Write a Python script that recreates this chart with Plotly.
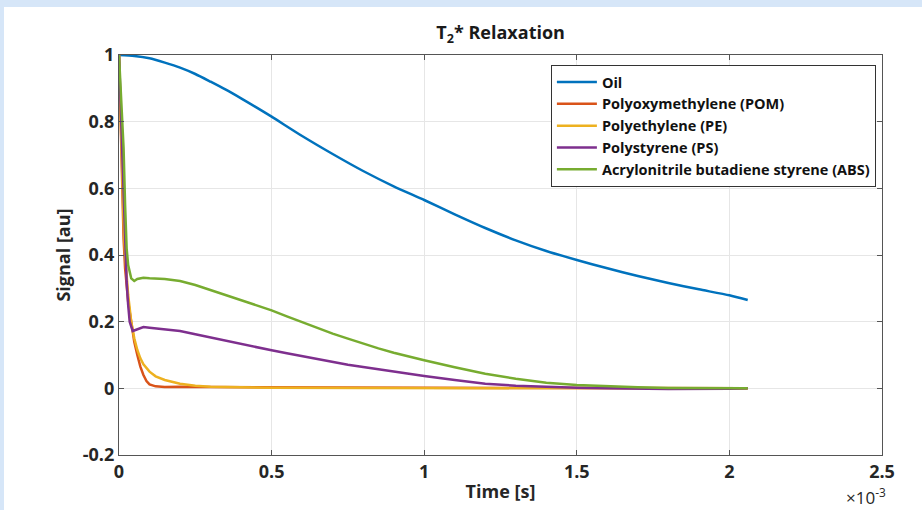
import plotly.graph_objects as go

# time in units of 1e-3 s
oil_t = [0, 0.05, 0.1, 0.15, 0.2, 0.25, 0.3, 0.35, 0.4, 0.45, 0.5, 0.6, 0.7, 0.8, 0.9,
         1.0, 1.1, 1.2, 1.3, 1.4, 1.5, 1.6, 1.7, 1.8, 1.9, 2.0, 2.06]
oil_v = [1.0, 0.997, 0.99, 0.977, 0.962, 0.943, 0.92, 0.896, 0.87, 0.843, 0.815, 0.757,
         0.703, 0.652, 0.606, 0.565, 0.522, 0.481, 0.444, 0.412, 0.385, 0.36, 0.337,
         0.316, 0.297, 0.279, 0.265]

pom_t = [0, 0.005, 0.01, 0.015, 0.02, 0.03, 0.04, 0.05, 0.06, 0.07, 0.08, 0.09, 0.1,
         0.12, 0.15, 0.2, 0.3, 0.5, 0.8, 1.0, 1.3, 1.6, 2.0, 2.06]
pom_v = [1.0, 0.8, 0.6, 0.45, 0.36, 0.26, 0.2, 0.14, 0.1, 0.065, 0.04, 0.022, 0.012,
         0.006, 0.004, 0.005, 0.004, 0.003, 0.002, 0.002, 0.001, 0.001, 0.0, 0.0]

pe_t = [0, 0.005, 0.01, 0.015, 0.02, 0.03, 0.04, 0.05, 0.06, 0.07, 0.08, 0.1, 0.12,
        0.15, 0.2, 0.25, 0.3, 0.4, 0.5, 0.8, 1.0, 1.3, 1.6, 2.0, 2.06]
pe_v = [1.0, 0.82, 0.65, 0.5, 0.4, 0.28, 0.2, 0.15, 0.115, 0.09, 0.072, 0.05, 0.036,
        0.025, 0.014, 0.008, 0.005, 0.003, 0.002, 0.001, 0.001, 0.001, 0.0, 0.0, 0.0]

ps_t = [0, 0.005, 0.01, 0.015, 0.02, 0.025, 0.03, 0.035, 0.045, 0.06, 0.08, 0.1, 0.15,
        0.2, 0.25, 0.3, 0.35, 0.4, 0.45, 0.5, 0.55, 0.6, 0.65, 0.7, 0.75, 0.8, 0.85,
        0.9, 0.95, 1.0, 1.1, 1.2, 1.3, 1.4, 1.5, 1.6, 1.8, 2.0, 2.06]
ps_v = [1.0, 0.85, 0.7, 0.55, 0.42, 0.32, 0.25, 0.2, 0.172, 0.178, 0.184, 0.182, 0.178,
        0.172, 0.162, 0.152, 0.142, 0.133, 0.123, 0.114, 0.105, 0.096, 0.087, 0.079,
        0.071, 0.064, 0.057, 0.05, 0.043, 0.037, 0.025, 0.014, 0.008, 0.004, 0.002,
        0.0, -0.002, -0.001, 0.0]

abs_t = [0, 0.005, 0.01, 0.015, 0.02, 0.025, 0.03, 0.04, 0.05, 0.06, 0.08, 0.1, 0.15,
         0.2, 0.25, 0.3, 0.35, 0.4, 0.45, 0.5, 0.55, 0.6, 0.65, 0.7, 0.75, 0.8, 0.85,
         0.9, 0.95, 1.0, 1.1, 1.2, 1.3, 1.4, 1.5, 1.6, 1.7, 1.8, 1.9, 2.0, 2.06]
abs_v = [1.0, 0.9, 0.82, 0.72, 0.55, 0.42, 0.37, 0.33, 0.322, 0.328, 0.332, 0.33, 0.328,
         0.322, 0.31, 0.295, 0.28, 0.265, 0.25, 0.234, 0.216, 0.198, 0.181, 0.164,
         0.149, 0.134, 0.12, 0.107, 0.095, 0.084, 0.063, 0.044, 0.029, 0.017, 0.01,
         0.006, 0.003, 0.001, 0.0, 0.0, 0.0]

series = [
    ("Oil", oil_t, oil_v, "#0072BD", "spline"),
    ("Polyoxymethylene (POM)", pom_t, pom_v, "#D95319", "linear"),
    ("Polyethylene (PE)", pe_t, pe_v, "#EDB120", "linear"),
    ("Polystyrene (PS)", ps_t, ps_v, "#7E2F8E", "linear"),
    ("Acrylonitrile butadiene styrene (ABS)", abs_t, abs_v, "#77AC30", "linear"),
]

x_ticks = [0, 0.5, 1, 1.5, 2, 2.5]
x_tick_text = ["0", "0.5", "1", "1.5", "2", "2.5"]
y_ticks = [-0.2, 0, 0.2, 0.4, 0.6, 0.8, 1]
y_tick_text = ["-0.2", "0", "0.2", "0.4", "0.6", "0.8", "1"]

FONT = "Open Sans"
fig = go.Figure()
for name, t, v, c, shape in series:
    line = dict(color=c, width=2.5, shape=shape)
    if shape == "spline":
        line["smoothing"] = 0.6
    fig.add_trace(go.Scatter(x=t, y=v, mode="lines", name=name, line=line))

axis_common = dict(showline=True, linecolor="#555555", linewidth=1.2, mirror="ticks",
                   ticks="inside", ticklen=5, tickcolor="#555555", showgrid=True,
                   gridcolor="#e6e6e6", gridwidth=1, zeroline=False,
                   tickfont=dict(family=FONT, size=18, color="#262626", weight="bold"))

fig.update_layout(
    width=922, height=524,
    margin=dict(l=119, r=40, t=55, b=69),
    paper_bgcolor="white", plot_bgcolor="white",
    title=dict(text="T<sub>2</sub>* Relaxation", x=0.543, xanchor="center",
               y=1 - 33 / 524, yanchor="middle", yref="container",
               font=dict(family=FONT, size=18, color="#1a1a1a", weight="bold")),
    xaxis=dict(range=[0, 2.5], tickvals=x_ticks, ticktext=x_tick_text,
               title=dict(text="Time [s]", standoff=3,
                          font=dict(family=FONT, size=18, color="#262626", weight="bold")),
               **axis_common),
    yaxis=dict(range=[-0.2, 1], tickvals=y_ticks, ticktext=y_tick_text,
               title=dict(text="Signal [au]", standoff=7,
                          font=dict(family=FONT, size=18, color="#262626", weight="bold")),
               **axis_common),
    legend=dict(x=0.992, xanchor="right", y=0.975, yanchor="top",
                bgcolor="white", bordercolor="#333333", borderwidth=1,
                font=dict(family=FONT, size=14.5, color="#111111", weight="bold"),
                tracegroupgap=0, itemwidth=40),
    showlegend=True,
)

fig.add_annotation(text="×10<sup>-3</sup>", xref="paper", yref="paper",
                   x=(866 - 119) / 763, y=(455 - 496) / 400, xanchor="center",
                   yanchor="middle", showarrow=False,
                   font=dict(family=FONT, size=17, color="#262626"))

# light blue frame of the picture
frame = "#d6e6f8"
fig.add_shape(type="rect", xref="paper", yref="paper", x0=-119 / 763, x1=(922 - 119) / 763,
              y0=(455 - 7) / 400, y1=455 / 400, fillcolor=frame, line_width=0, layer="below")
fig.add_shape(type="rect", xref="paper", yref="paper", x0=-119 / 763, x1=(4 - 119) / 763,
              y0=(455 - 510) / 400, y1=455 / 400, fillcolor=frame, line_width=0, layer="below")

fig.write_html("out.html")
